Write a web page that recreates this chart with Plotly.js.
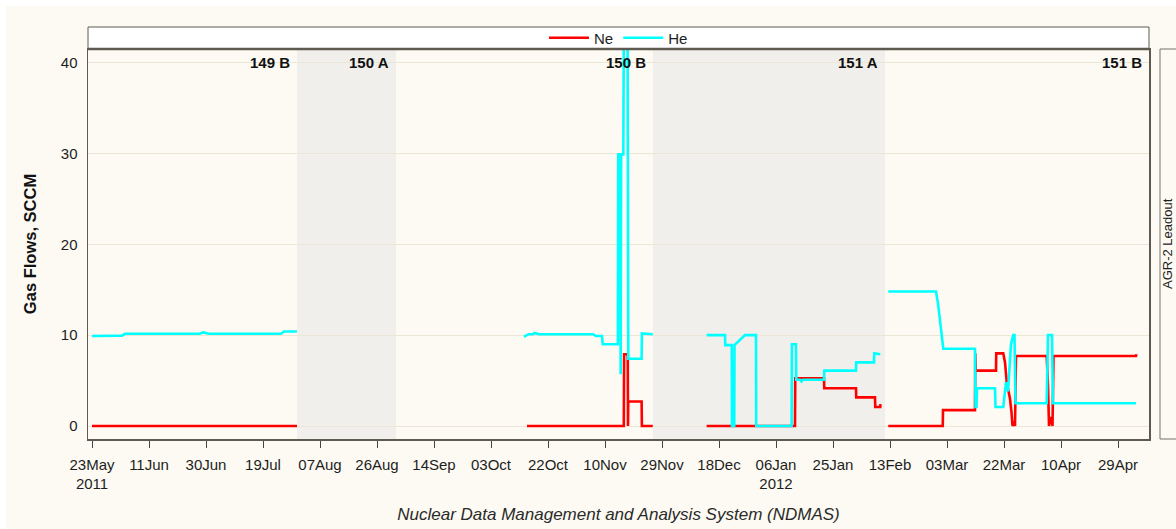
<!DOCTYPE html>
<html><head><meta charset="utf-8">
<script src="https://cdn.plot.ly/plotly-3.0.1.min.js"></script>
<style>html,body{margin:0;padding:0;background:#fff}#chart{width:1176px;height:529px}</style>
</head><body><div id="chart"></div>
<script>
// ---- data ----
const neDates = ["2011-05-23","2011-07-30 08:00","2011-09-15",
 "2011-10-15","2011-11-16 06:30","2011-11-16 09:00","2011-11-17 14:00","2011-11-17 16:00","2011-11-17 18:00","2011-11-22 05:00","2011-11-22 07:00","2011-11-25 22:00","2011-12-01",
 "2011-12-13 21:00","2012-01-12 08:00","2012-01-12 10:00","2012-01-22 00:00","2012-01-22 02:00","2012-02-01 16:00","2012-02-01 18:00","2012-02-08 00:00","2012-02-08 02:00","2012-02-09 18:00","2012-02-09 20:00","2012-02-11",
 "2012-02-12 10:00","2012-03-01 14:00","2012-03-01 16:00","2012-03-12 08:00","2012-03-12 10:00","2012-03-12 14:00","2012-03-19 08:00","2012-03-19 10:00","2012-03-21 18:00","2012-03-22 08:00","2012-03-22 22:00","2012-03-24 00:00","2012-03-24 12:00","2012-03-24 20:00","2012-03-25 12:00","2012-03-25 16:00","2012-03-26 00:00","2012-04-05 05:30","2012-04-05 16:00","2012-04-06 00:00","2012-04-06 16:00","2012-04-07 04:00","2012-04-07 12:00","2012-05-05 00:00","2012-05-05 04:00"];
const neValues = [0,0,null,
 0,0,7.9,7.9,0,2.7,2.7,0,0,null,
 0,0,5.25,5.25,4.15,4.15,3.15,3.15,2.1,2.1,2.4,null,
 0,0,1.75,1.75,8.0,6.1,6.1,8.0,8.0,7.0,4.8,3.0,1.5,0,0.5,0,7.7,7.7,4.5,0,1.0,0,7.7,7.7,7.9];

const heDates = ["2011-05-23","2011-06-02","2011-06-03","2011-06-28","2011-06-29","2011-07-01","2011-07-25","2011-07-26","2011-07-30 08:00","2011-09-15",
 "2011-10-14","2011-10-15 12:00","2011-10-17","2011-10-17 12:00","2011-10-19","2011-11-06","2011-11-07","2011-11-09","2011-11-09 06:00","2011-11-14 07:00","2011-11-14 10:00","2011-11-15 02:00","2011-11-15 05:30","2011-11-15 09:00","2011-11-16 02:30","2011-11-16 08:00","2011-11-17 12:00","2011-11-17 18:30","2011-11-22 05:00","2011-11-22 07:00","2011-11-25 22:00","2011-12-01",
 "2011-12-13 21:00","2011-12-20 00:00","2011-12-20 02:00","2011-12-22 06:00","2011-12-22 08:00","2011-12-23 02:00","2011-12-23 04:00","2011-12-25 00:00","2011-12-26 16:00","2011-12-30 08:00","2011-12-30 10:00","2012-01-11 05:00","2012-01-11 07:00","2012-01-12 16:00","2012-01-12 18:00","2012-01-14 00:00","2012-01-14 12:00","2012-01-15 00:00","2012-01-22 00:00","2012-01-22 02:00","2012-02-01 16:00","2012-02-01 18:00","2012-02-07 16:00","2012-02-07 18:00","2012-02-09 18:00","2012-02-11",
 "2012-02-12 10:00","2012-02-28 08:00","2012-02-29 00:00","2012-02-29 16:00","2012-03-01 05:30","2012-03-01 18:30","2012-03-12 08:00","2012-03-12 12:00","2012-03-12 20:00","2012-03-13 00:00","2012-03-19 00:00","2012-03-19 04:00","2012-03-21 18:00","2012-03-22 16:00","2012-03-23 08:00","2012-03-24 08:00","2012-03-25 02:00","2012-03-25 12:00","2012-03-25 20:00","2012-04-05 05:30","2012-04-05 16:00","2012-04-07 00:00","2012-04-07 08:00","2012-05-05 00:00"];
const heValues = [9.9,9.95,10.15,10.15,10.3,10.15,10.15,10.4,10.4,null,
 9.8,10.1,10.1,10.25,10.1,10.1,9.9,9.9,9.0,9.0,29.9,29.9,5.7,29.9,29.9,48,48,7.4,7.4,10.2,10.1,null,
 10.0,10.0,8.9,8.9,0,0,8.9,9.5,10.0,10.0,0,0,9.0,9.0,5.1,5.1,4.9,5.1,5.1,6.1,6.1,7.0,7.0,8.0,7.9,null,
 14.8,14.8,13.5,11.5,10.0,8.5,8.5,2.1,2.1,4.15,4.15,2.1,2.1,4.8,3.8,9.0,10.0,10.0,2.5,2.5,10.0,10.0,2.5,2.5];

const tickDates = ["2011-05-23","2011-06-11","2011-06-30","2011-07-19","2011-08-07","2011-08-26","2011-09-14","2011-10-03","2011-10-22","2011-11-10","2011-11-29","2011-12-18","2012-01-06","2012-01-25","2012-02-13","2012-03-03","2012-03-22","2012-04-10","2012-04-29"];
const tickLabels = ["23May<br>2011","11Jun","30Jun","19Jul","07Aug","26Aug","14Sep","03Oct","22Oct","10Nov","29Nov","18Dec","06Jan<br>2012","25Jan","13Feb","03Mar","22Mar","10Apr","29Apr"];
const yTicks = [0,10,20,30,40];

const regionNames  = ["149 B","150 A","150 B","151 A","151 B"];
const regionStart  = ["2011-05-21 16:00","2011-07-30 08:00","2011-09-01 08:00","2011-11-26 00:00","2012-02-11 08:00"];
const regionEnd    = ["2011-07-30 08:00","2011-09-01 08:00","2011-11-26 00:00","2012-02-11 08:00","2012-05-09 08:00"];
const regionShaded = [false,true,false,true,false];

// ---- styling ----
const FONT = "Liberation Sans, Arial, sans-serif";
const INK = "#1e1e1e";
const FRAME = "#5e5a50";

const traces = [
  {type:"scatter", mode:"lines", name:"Ne", x:neDates, y:neValues,
   line:{color:"#ff0000", width:2.6}, connectgaps:false, hoverinfo:"x+y"},
  {type:"scatter", mode:"lines", name:"He", x:heDates, y:heValues,
   line:{color:"#00ffff", width:2.6}, connectgaps:false, hoverinfo:"x+y"}
];

const shapes = [
  {type:"rect", xref:"paper", yref:"paper", x0:-82/1061, x1:1.03, y0:-90/390, y1:1+43/390,
   fillcolor:"#fcfaf2", line:{width:0}, layer:"below"},
  {type:"rect", xref:"paper", yref:"paper", x0:0, x1:1, y0:1, y1:1+22/390,
   fillcolor:"#ffffff", line:{color:FRAME, width:1}, layer:"below"},
  {type:"line", xref:"paper", yref:"paper", x0:0, x1:1, y0:1, y1:1,
   line:{color:FRAME, width:2.5}, layer:"above"},
  {type:"rect", xref:"paper", yref:"paper", x0:(1160-88)/1061, x1:1.06, y0:0, y1:1,
   fillcolor:"#fcfaf2", line:{color:"#77736a", width:1}, layer:"below"}
];
regionNames.forEach((n,i)=>{
  if (regionShaded[i]) shapes.push({type:"rect", xref:"x", yref:"paper",
    x0:regionStart[i], x1:regionEnd[i], y0:0, y1:1,
    fillcolor:"#f0efeb", line:{width:0}, layer:"below"});
});

const annotations = regionNames.map((n,i)=>({
  x:regionEnd[i], xref:"x", y:1, yref:"paper", yanchor:"top", xanchor:"right",
  xshift:-5, yshift:-3, text:"<b>"+n+"</b>", showarrow:false,
  font:{family:FONT, size:15, color:"#111"}
}));
annotations.push({
  x:(1167-88)/1061, xref:"paper", y:0.5, yref:"paper", xanchor:"center", yanchor:"middle",
  text:"AGR-2 Leadout", textangle:-90, showarrow:false,
  font:{family:FONT, size:13, color:INK}
});

const layout = {
  width:1176, height:529,
  margin:{l:88, r:27, t:49, b:90, pad:0},
  paper_bgcolor:"#ffffff",
  plot_bgcolor:"#f9f6ea",
  showlegend:true,
  legend:{orientation:"h", x:0.5, xanchor:"center", y:1+11/390, yanchor:"middle",
    bgcolor:"rgba(0,0,0,0)", font:{family:FONT, size:15, color:INK}, itemwidth:40},
  xaxis:{
    type:"date", range:["2011-05-21 16:00","2012-05-09 08:00"],
    tickmode:"array", tickvals:tickDates, ticktext:tickLabels,
    ticks:"outside", ticklen:7, tickwidth:1, tickcolor:"#444",
    showgrid:false, zeroline:false,
    showline:true, linecolor:FRAME, linewidth:1.5, mirror:true,
    tickfont:{family:FONT, size:15, color:INK}, ticklabelstandoff:4,
    title:{text:"<i>Nuclear Data Management and Analysis System (NDMAS)</i>",
      font:{family:FONT, size:17, color:"#2a2a2a"}, standoff:17}
  },
  yaxis:{
    range:[-1.43, 41.5], tickmode:"array", tickvals:yTicks,
    ticks:"", showgrid:true, gridcolor:"#ebe6d5", gridwidth:1, zeroline:false,
    showline:true, linecolor:FRAME, linewidth:1.5, mirror:true,
    tickfont:{family:FONT, size:15, color:INK}, ticklabelstandoff:6,
    title:{text:"<b>Gas Flows, SCCM</b>", font:{family:FONT, size:16.5, color:"#111"}, standoff:20}
  },
  shapes:shapes, annotations:annotations
};

Plotly.newPlot("chart", traces, layout, {displayModeBar:false, staticPlot:true});
</script>
</body></html>
